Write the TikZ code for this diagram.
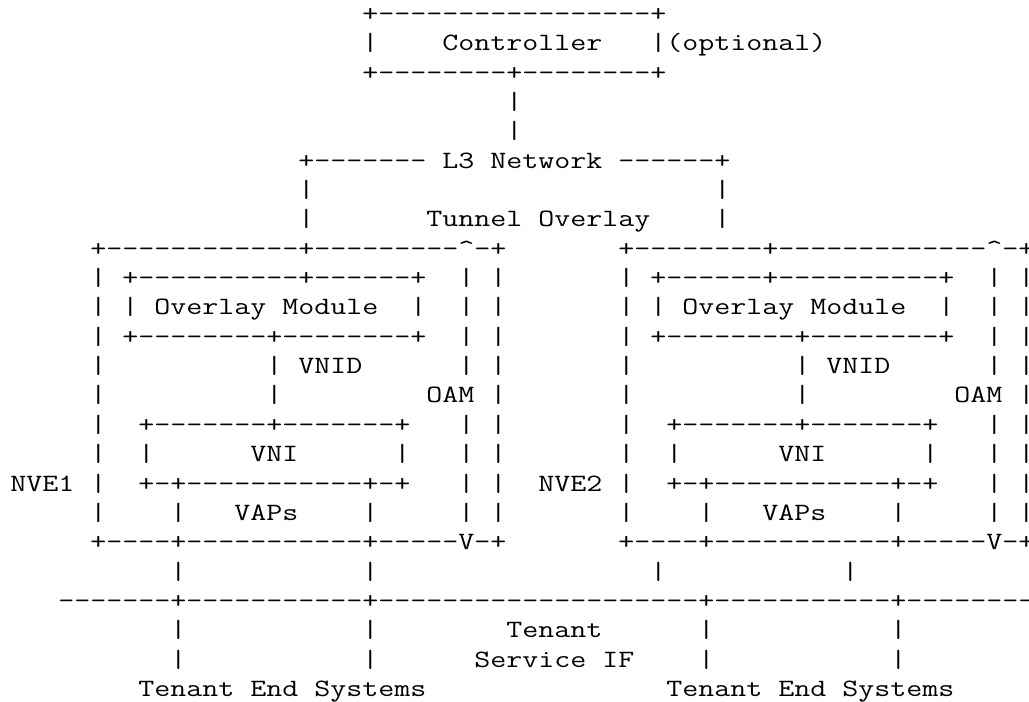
\documentclass[tikz,border=0pt]{standalone}
\usepackage{graphicx}
\newlength\chw
\newcommand\asciifont{\fontsize{24.9pt}{29pt}\selectfont\ttfamily}
\def\sx{1.25}
\AtBeginDocument{\settowidth\chw{\asciifont M}\pgfmathsetmacro\sxtmp{16/\chw}\global\let\sx\sxtmp}
\newcommand\ascii[1]{\scalebox{\sx}[1]{\asciifont #1}}
\newcommand\dsh[1]{\foreach\k in {1,...,#1}{\hbox{-}}}
\newcommand\hyp{\hbox{-}}
\newcommand\crt{\textasciicircum}
\tikzset{asc/.style={anchor=base west, inner sep=0pt, outer sep=0pt},
         ascc/.style={anchor=base, inner sep=0pt, outer sep=0pt}}
\begin{document}
\begin{tikzpicture}[x=16pt, y=-29.36pt]
\fill[white] (-10.3pt,21.3pt) rectangle (1018.7pt,-680.7pt);
\useasboundingbox (-10.3pt,21.3pt) rectangle (1018.7pt,-680.7pt);
% controller
\node[asc] (ctop) at (22,0) {\ascii{+\dsh{17}+}};
\node[asc] (cl) at (22,1) {\ascii{|}};
\node[asc] (ctxt) at (27,1) {\ascii{Controller}};
\node[asc] (cr) at (40,1) {\ascii{|(optional)}};
\node[asc] (cbot) at (22,2) {\ascii{+\dsh{8}+\dsh{8}+}};
\node[asc] (cv1) at (31,3) {\ascii{|}};
\node[asc] (cv2) at (31,4) {\ascii{|}};
% L3 network
\node[asc] (l3) at (18,5) {\ascii{+\dsh{7} L3 Network \dsh{6}+}};
\node[asc] (t1) at (18,6) {\ascii{|}};
\node[asc] (t2) at (44,6) {\ascii{|}};
\node[asc] (t3) at (18,7) {\ascii{|}};
\node[asc] (tun) at (26,7) {\ascii{Tunnel Overlay}};
\node[asc] (t4) at (44,7) {\ascii{|}};
% NVE boxes top
\node[asc] (atop) at (5,8) {\ascii{+\dsh{12}+\dsh{9}\crt\hyp+}};
\node[asc] (btop) at (38,8) {\ascii{+\dsh{8}+\dsh{13}\crt\hyp+}};
\foreach \r in {9,...,17} {
  \node[asc] (lo\r) at (5,\r) {\ascii{|}};
  \node[asc] (ro\r) at (30,\r) {\ascii{|}};
  \node[asc] (lt\r) at (38,\r) {\ascii{|}};
  \node[ascc] (rt\r) at (63.5,\r) {\ascii{\makebox[0pt]{|}}};
}
\foreach \r in {9,10,11,12,14,15,16,17} {
  \node[asc] (oa\r) at (28,\r) {\ascii{|}};
  \node[asc] (ob\r) at (61,\r) {\ascii{|}};
}
% overlay module
\node[asc] (om1t) at (7,9) {\ascii{+\dsh{10}+\dsh{6}+}};
\node[asc] (om2t) at (40,9) {\ascii{+\dsh{6}+\dsh{10}+}};
\node[asc] (om1l) at (7,10) {\ascii{|}};
\node[asc] (om1) at (9,10) {\ascii{Overlay Module}};
\node[asc] (om1r) at (25,10) {\ascii{|}};
\node[asc] (om2l) at (40,10) {\ascii{|}};
\node[asc] (om2) at (42,10) {\ascii{Overlay Module}};
\node[asc] (om2r) at (58,10) {\ascii{|}};
\node[asc] (om1b) at (7,11) {\ascii{+\dsh{8}+\dsh{8}+}};
\node[asc] (om2b) at (40,11) {\ascii{+\dsh{8}+\dsh{8}+}};
% VNID / OAM
\node[asc] (v1a) at (16,12) {\ascii{|}};
\node[asc] (vnid1) at (18,12) {\ascii{VNID}};
\node[asc] (v2a) at (49,12) {\ascii{|}};
\node[asc] (vnid2) at (51,12) {\ascii{VNID}};
\node[asc] (v1b) at (16,13) {\ascii{|}};
\node[asc] (oam1) at (26,13) {\ascii{OAM}};
\node[asc] (v2b) at (49,13) {\ascii{|}};
\node[asc] (oam2) at (59,13) {\ascii{OAM}};
% VNI
\node[asc] (vni1t) at (8,14) {\ascii{+\dsh{7}+\dsh{7}+}};
\node[asc] (vni2t) at (41,14) {\ascii{+\dsh{7}+\dsh{7}+}};
\node[asc] (vni1l) at (8,15) {\ascii{|}};
\node[asc] (vni1) at (15,15) {\ascii{VNI}};
\node[asc] (vni1r) at (24,15) {\ascii{|}};
\node[asc] (vni2l) at (41,15) {\ascii{|}};
\node[asc] (vni2) at (48,15) {\ascii{VNI}};
\node[asc] (vni2r) at (57,15) {\ascii{|}};
\node[asc] (nve1) at (0,16) {\ascii{NVE1}};
\node[asc] (vni1b) at (8,16) {\ascii{+\hyp+\dsh{11}+\hyp+}};
\node[asc] (nve2) at (33,16) {\ascii{NVE2}};
\node[asc] (vni2b) at (41,16) {\ascii{+\hyp+\dsh{11}+\hyp+}};
% VAPs
\node[asc] (vap1l) at (10,17) {\ascii{|}};
\node[asc] (vap1) at (14,17) {\ascii{VAPs}};
\node[asc] (vap1r) at (22,17) {\ascii{|}};
\node[asc] (vap2l) at (43,17) {\ascii{|}};
\node[asc] (vap2) at (47,17) {\ascii{VAPs}};
\node[asc] (vap2r) at (55,17) {\ascii{|}};
\node[asc] (abot) at (5,18) {\ascii{+\dsh{4}+\dsh{11}+\dsh{5}V\hyp+}};
\node[asc] (bbot) at (38,18) {\ascii{+\dsh{4}+\dsh{11}+\dsh{5}V\hyp+}};
% tenant service interface
\node[asc] (s1) at (10,19) {\ascii{|}};
\node[asc] (s2) at (22,19) {\ascii{|}};
\node[asc] (s3) at (40,19) {\ascii{|}};
\node[asc] (s4) at (52,19) {\ascii{|}};
\node[asc] (tsif) at (3,20) {\ascii{\dsh{7}+\dsh{11}+\dsh{20}+\dsh{11}+\dsh{8}}};
\node[asc] (e1a) at (10,21) {\ascii{|}};
\node[asc] (e2a) at (22,21) {\ascii{|}};
\node[asc] (ten) at (31,21) {\ascii{Tenant}};
\node[asc] (e3a) at (43,21) {\ascii{|}};
\node[asc] (e4a) at (55,21) {\ascii{|}};
\node[asc] (e1b) at (10,22) {\ascii{|}};
\node[asc] (e2b) at (22,22) {\ascii{|}};
\node[asc] (sif) at (29,22) {\ascii{Service IF}};
\node[asc] (e3b) at (43,22) {\ascii{|}};
\node[asc] (e4b) at (55,22) {\ascii{|}};
\node[asc] (tes1) at (8,23) {\ascii{Tenant End Systems}};
\node[asc] (tes2) at (41,23) {\ascii{Tenant End Systems}};
\end{tikzpicture}
\end{document}
